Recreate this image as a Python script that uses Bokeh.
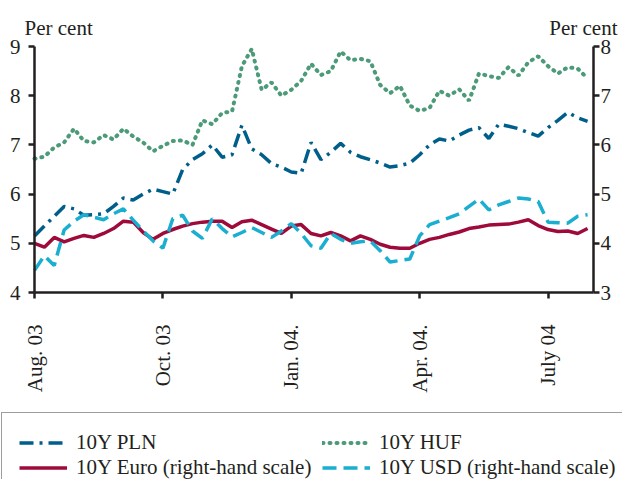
import math
from bokeh.plotting import figure
from bokeh.models import Range1d, LinearAxis, FixedTicker, Legend, LegendItem, Label
from bokeh.embed import file_html
from bokeh.resources import INLINE

# ---- data (weekly observations, Aug 2003 - July 2004) ----
weeks = list(range(57))
tick_positions = [0, 13, 26, 39, 52]
tick_labels = ["Aug. 03", "Oct. 03", "Jan. 04.", "Apr. 04.", "July 04"]

pln = [5.15, 5.35, 5.55, 5.75, 5.70, 5.57, 5.58, 5.60, 5.75, 5.92,
       5.88, 6.00, 6.10, 6.05, 6.00, 6.50, 6.70, 6.82, 7.00, 6.75,
       6.80, 7.40, 6.92, 6.80, 6.62, 6.55, 6.45, 6.42, 7.05, 6.70,
       6.85, 7.03, 6.85, 6.76, 6.70, 6.63, 6.55, 6.58, 6.63, 6.80,
       7.00, 7.12, 7.08, 7.20, 7.30, 7.35, 7.13, 7.42, 7.38, 7.33,
       7.25, 7.18, 7.35, 7.50, 7.66, 7.55, 7.48]
huf = [6.72, 6.76, 6.95, 7.05, 7.33, 7.08, 7.05, 7.20, 7.11, 7.33,
       7.17, 7.05, 6.87, 6.98, 7.08, 7.09, 7.00, 7.50, 7.42, 7.65,
       7.68, 8.60, 8.95, 8.12, 8.27, 8.00, 8.12, 8.30, 8.65, 8.42,
       8.50, 8.90, 8.72, 8.75, 8.70, 8.22, 8.05, 8.20, 7.80, 7.69,
       7.75, 8.10, 8.00, 8.13, 7.90, 8.45, 8.40, 8.36, 8.58, 8.41,
       8.68, 8.80, 8.60, 8.45, 8.58, 8.55, 8.35]
euro = [4.00, 3.92, 4.12, 4.03, 4.10, 4.16, 4.12, 4.20, 4.30, 4.45,
        4.43, 4.22, 4.08, 4.20, 4.28, 4.35, 4.40, 4.43, 4.45, 4.45,
        4.32, 4.44, 4.47, 4.38, 4.29, 4.20, 4.35, 4.38, 4.20, 4.15,
        4.22, 4.15, 4.05, 4.15, 4.08, 3.98, 3.92, 3.90, 3.90, 4.00,
        4.08, 4.12, 4.18, 4.23, 4.30, 4.33, 4.37, 4.38, 4.39, 4.43,
        4.48, 4.36, 4.28, 4.24, 4.25, 4.20, 4.30]
usd = [3.45, 3.75, 3.55, 4.27, 4.45, 4.58, 4.53, 4.48, 4.60, 4.70,
       4.47, 4.25, 4.05, 3.90, 4.50, 4.57, 4.25, 4.10, 4.50, 4.30,
       4.13, 4.22, 4.32, 4.22, 4.12, 4.25, 4.40, 4.20, 3.95, 3.90,
       4.20, 4.08, 4.00, 4.03, 4.05, 3.85, 3.62, 3.65, 3.68, 4.15,
       4.38, 4.45, 4.52, 4.60, 4.75, 4.90, 4.68, 4.78, 4.85, 4.92,
       4.90, 4.85, 4.43, 4.42, 4.41, 4.55, 4.58]
series_labels = ["10Y PLN", "10Y Euro (right-hand scale)", "10Y HUF", "10Y USD (right-hand scale)"]
unit_label = "Per cent"
left_ticks = [4, 5, 6, 7, 8, 9]
right_ticks = [3, 4, 5, 6, 7, 8]

FONT = "Liberation Serif"
INK = "#231f20"
W, H = 622, 479

# pixel geometry of the plotting area inside the canvas
X0, X1 = 34, 593          # left / right axis lines
Y_TOP, Y_BOT = 46, 292    # top / bottom of the value scale
XMAX = 56.6
sx = (X1 - X0) / XMAX
sy = (Y_BOT - Y_TOP) / 5.0
x_range = Range1d(-X0 / sx, XMAX + (W - X1) / sx)
y_range = Range1d(4 - (H - Y_BOT) / sy, 9 + Y_TOP / sy)
y_right = Range1d(3 - (H - Y_BOT) / sy, 8 + Y_TOP / sy)

p = figure(width=W, height=H, x_range=x_range, y_range=y_range,
           output_backend="svg", toolbar_location=None,
           x_axis_location=None, y_axis_location=None,
           min_border_left=0, min_border_right=0, min_border_top=0, min_border_bottom=0)
p.extra_y_ranges = {"right": y_right}
p.outline_line_color = None
p.xgrid.visible = False
p.ygrid.visible = False

left_axis = LinearAxis(fixed_location=0, bounds=(4, 9), ticker=FixedTicker(ticks=left_ticks),
                       major_label_standoff=8)
right_axis = LinearAxis(y_range_name="right", fixed_location=XMAX, bounds=(3, 8),
                        ticker=FixedTicker(ticks=right_ticks), major_label_standoff=1)
bottom_axis = LinearAxis(fixed_location=4, bounds=(0, XMAX), ticker=FixedTicker(ticks=tick_positions),
                         major_label_overrides={t: l for t, l in zip(tick_positions, tick_labels)},
                         major_label_orientation=math.pi / 2, major_label_standoff=26)
p.add_layout(left_axis, "left")
p.add_layout(right_axis, "right")
p.add_layout(bottom_axis, "below")

for ax in [bottom_axis, left_axis, right_axis]:
    ax.axis_line_color = INK
    ax.axis_line_width = 2.5
    ax.major_tick_line_color = INK
    ax.major_tick_line_width = 2.5
    ax.major_tick_out = 6
    ax.major_tick_in = 0
    ax.minor_tick_out = 0
    ax.minor_tick_in = 0
    ax.major_label_text_font = FONT
    ax.major_label_text_font_size = "21px"
    ax.major_label_text_color = INK

r_pln = p.line(weeks, pln, line_color="#005e8a", line_width=3.5, line_dash="14 6 3 6")
r_huf = p.line(weeks, huf, line_color="#4b9a78", line_width=4, line_dash="1 6", line_cap="round")
r_euro = p.line(weeks, euro, y_range_name="right", line_color="#9e0b3b", line_width=3.5)
r_usd = p.line(weeks, usd, y_range_name="right", line_color="#1aaed0", line_width=3.5, line_dash="14 7")

legend = Legend(items=[
    LegendItem(label=series_labels[0], renderers=[r_pln]),
    LegendItem(label=series_labels[1], renderers=[r_euro]),
    LegendItem(label=series_labels[2], renderers=[r_huf]),
    LegendItem(label=series_labels[3], renderers=[r_usd]),
], ncols=2, location=(1, -19))
legend.label_text_font = FONT
legend.label_text_font_size = "21px"
legend.label_text_color = INK
legend.glyph_width = 48
legend.glyph_height = 21
legend.label_height = 21
legend.label_width = 246
legend.label_standoff = 9
legend.padding = 17
legend.spacing = 0
legend.margin = 0
legend.border_line_color = "#3c3c3c"
legend.border_line_width = 1.5
legend.background_fill_color = "white"
legend.background_fill_alpha = 1
p.add_layout(legend, "center")

for x, align in [(24, "left"), (617, "right")]:
    p.add_layout(Label(x=x, y=H - 27, x_units="screen", y_units="screen", text=unit_label,
                       text_font=FONT, text_font_size="21px", text_color=INK,
                       text_align=align, text_baseline="alphabetic"))

open("out.html", "w").write(file_html(p, INLINE))
